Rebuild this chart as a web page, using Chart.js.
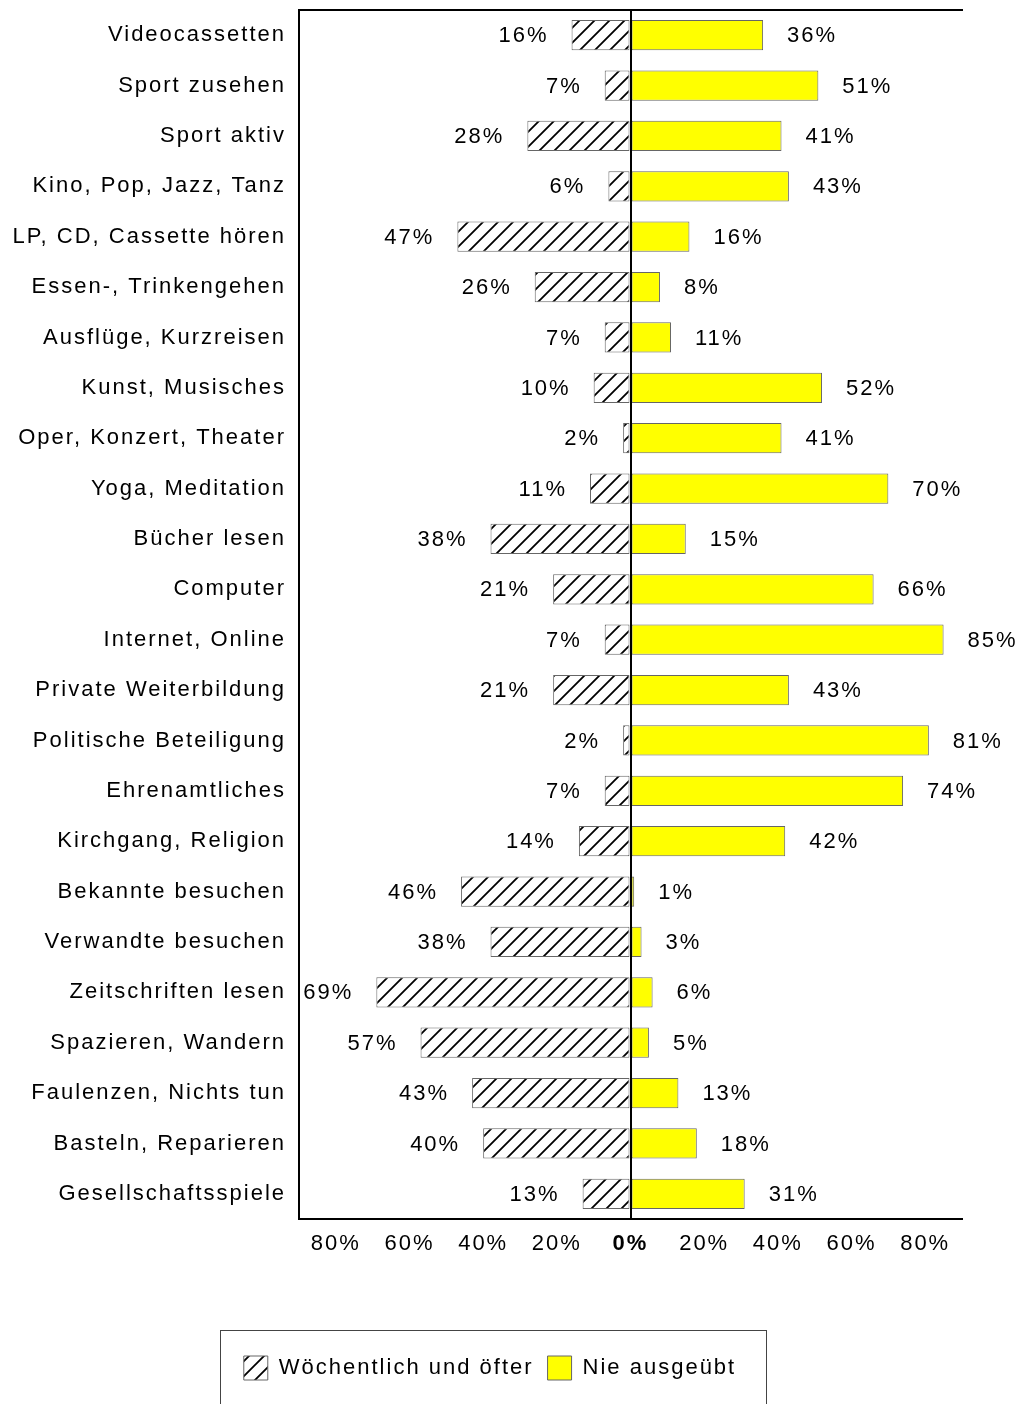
<!DOCTYPE html>
<html>
<head>
<meta charset="utf-8">
<script src="https://cdn.jsdelivr.net/npm/chart.js@4/dist/chart.umd.min.js"></script>
<style>
  html, body { margin: 0; padding: 0; background: #fff; }
  canvas { display: block; }
</style>
</head>
<body>
<canvas id="freizeitChart" width="1023" height="1404"></canvas>
<script>
const categories = [
  'Videocassetten', 'Sport zusehen', 'Sport aktiv', 'Kino, Pop, Jazz, Tanz',
  'LP, CD, Cassette hören', 'Essen-, Trinkengehen', 'Ausflüge, Kurzreisen',
  'Kunst, Musisches', 'Oper, Konzert, Theater', 'Yoga, Meditation',
  'Bücher lesen', 'Computer', 'Internet, Online', 'Private Weiterbildung',
  'Politische Beteiligung', 'Ehrenamtliches', 'Kirchgang, Religion',
  'Bekannte besuchen', 'Verwandte besuchen', 'Zeitschriften lesen',
  'Spazieren, Wandern', 'Faulenzen, Nichts tun', 'Basteln, Reparieren',
  'Gesellschaftsspiele'
];
const weeklyOrMore = [16, 7, 28, 6, 47, 26, 7, 10, 2, 11, 38, 21, 7, 21, 2, 7, 14, 46, 38, 69, 57, 43, 40, 13];
const neverDone = [36, 51, 41, 43, 16, 8, 11, 52, 41, 70, 15, 66, 85, 43, 81, 74, 42, 1, 3, 6, 5, 13, 18, 31];
const xTickValues = [-80, -60, -40, -20, 0, 20, 40, 60, 80];
const seriesNames = ['Wöchentlich und öfter', 'Nie ausgeübt'];

const FONT = '"Liberation Sans", Arial, sans-serif';

// diagonal hatch "/" on white
function makeHatch() {
  const s = 15;
  const c = document.createElement('canvas');
  c.width = s; c.height = s;
  const g = c.getContext('2d');
  g.fillStyle = '#fff';
  g.fillRect(0, 0, s, s);
  g.strokeStyle = '#000';
  g.lineWidth = 1.8;
  g.beginPath();
  g.moveTo(-2, s + 2); g.lineTo(s + 2, -2);
  g.moveTo(-2, 2); g.lineTo(2, -2);
  g.moveTo(s - 2, s + 2); g.lineTo(s + 2, s - 2);
  g.stroke();
  return g.createPattern(c, 'repeat');
}

const ctx = document.getElementById('freizeitChart').getContext('2d');
const hatch = makeHatch();

// all text in the picture is slightly spaced out
const spacing = {
  id: 'spacing',
  beforeLayout(chart) { chart.ctx.letterSpacing = '2px'; },
  afterLayout(chart) {
    // legend sits a little right of the canvas centre
    if (chart.legend) { chart.legend.left += 9; chart.legend.right += 9; }
  },
  beforeDraw(chart) { chart.ctx.letterSpacing = '2px'; }
};

const valueLabels = {
  id: 'valueLabels',
  afterDatasetsDraw(chart) {
    const c = chart.ctx;
    c.save();
    c.font = '22px ' + FONT;
    c.fillStyle = '#000';
    c.textBaseline = 'middle';
    [weeklyOrMore, neverDone].forEach((vals, d) => {
      chart.getDatasetMeta(d).data.forEach((bar, i) => {
        if (d === 0) {
          c.textAlign = 'right';
          c.fillText(vals[i] + '%', bar.x - 23, bar.y + 1);
        } else {
          c.textAlign = 'left';
          c.fillText(vals[i] + '%', bar.x + 24, bar.y + 1);
        }
      });
    });
    c.restore();
  }
};

const legendFrame = {
  id: 'legendFrame',
  afterDraw(chart) {
    const boxes = chart.legend && chart.legend.legendHitBoxes;
    if (!boxes || !boxes.length) return;
    const first = boxes[0], last = boxes[boxes.length - 1];
    const c = chart.ctx;
    c.save();
    c.strokeStyle = '#444';
    c.lineWidth = 1;
    const l = Math.round(first.left - 24) + 0.5;
    const r = Math.round(last.left + last.width + 30) + 0.5;
    const t = Math.round(first.top - 26) + 0.5;
    c.strokeRect(l, t, r - l, chart.height + 10 - t);
    c.restore();
  }
};

new Chart(ctx, {
  type: 'bar',
  data: {
    labels: categories,
    datasets: [
      {
        label: seriesNames[0],
        data: weeklyOrMore.map(v => -v),
        backgroundColor: hatch,
        borderColor: '#666',
        borderWidth: 1,
        borderSkipped: false
      },
      {
        label: seriesNames[1],
        data: neverDone,
        backgroundColor: '#ffff00',
        borderColor: '#666',
        borderWidth: 1,
        borderSkipped: false
      }
    ]
  },
  options: {
    indexAxis: 'y',
    responsive: false,
    devicePixelRatio: 1,
    animation: false,
    layout: { padding: { top: 10, left: 0, right: 61, bottom: 14 } },
    datasets: { bar: { categoryPercentage: 1, barPercentage: 0.6 } },
    scales: {
      x: {
        stacked: true,
        min: -90,
        max: 90,
        afterBuildTicks: (scale) => { scale.ticks = xTickValues.map(v => ({ value: v })); },
        afterFit: (scale) => { scale.height = 123; },
        grid: {
          z: 1,
          drawTicks: false,
          lineWidth: 2,
          color: (c) => (c.tick && c.tick.value === 0 ? '#000' : 'rgba(0,0,0,0)')
        },
        border: { display: true, color: '#000', width: 2, z: 1 },
        ticks: {
          color: '#000',
          padding: 12,
          maxRotation: 0,
          font: (c) => ({ family: FONT, size: 22, weight: c.tick && c.tick.value === 0 ? 'bold' : 'normal' }),
          callback: (v) => Math.abs(v) + '%'
        }
      },
      xTop: {
        position: 'top',
        min: -90,
        max: 90,
        afterFit: (scale) => { scale.height = 0; },
        grid: { display: false, drawTicks: false },
        border: { display: true, color: '#000', width: 2 },
        ticks: { display: false }
      },
      y: {
        stacked: true,
        afterFit: (scale) => {
          scale.width = 299;
          scale.paddingTop = 0;
          scale.paddingBottom = 0;
        },
        grid: { display: false, drawTicks: false },
        border: { display: true, color: '#000', width: 2 },
        ticks: {
          autoSkip: false,
          color: '#000',
          padding: 13,
          font: { family: FONT, size: 22 }
        }
      }
    },
    plugins: {
      tooltip: { enabled: false },
      legend: {
        position: 'bottom',
        labels: {
          color: '#000',
          boxWidth: 24,
          boxHeight: 24,
          padding: 14,
          font: { family: FONT, size: 22 }
        }
      }
    }
  },
  plugins: [spacing, valueLabels, legendFrame]
});
</script>
</body>
</html>
